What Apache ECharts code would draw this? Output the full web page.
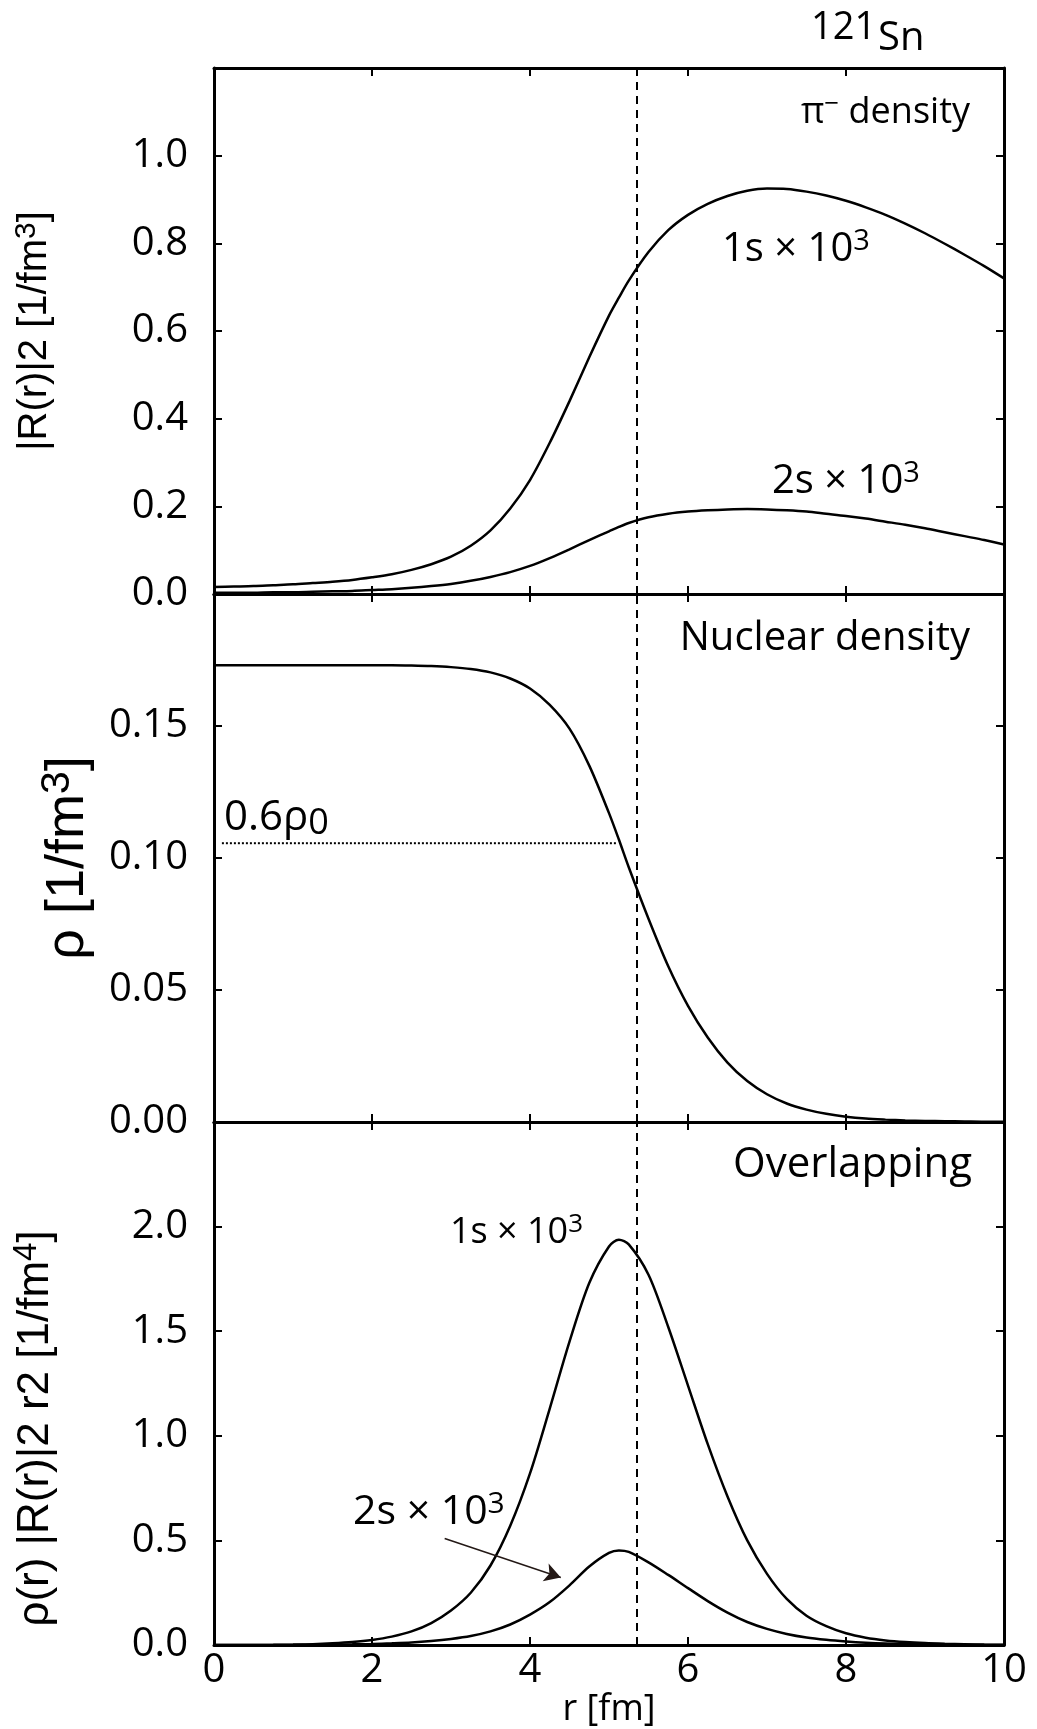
<!DOCTYPE html>
<html>
<head>
<meta charset="utf-8">
<script src="https://cdn.jsdelivr.net/npm/echarts@6/dist/echarts.min.js"></script>
<style>
html, body { margin: 0; padding: 0; background: #fff; }
#main { width: 1037px; height: 1729px; }
</style>
</head>
<body>
<div id="main"></div>
<script>
// radius samples [fm], every 0.25 fm plus the peak point 5.125
const r = [0, 0.25, 0.5, 0.75, 1, 1.25, 1.5, 1.75, 2, 2.25, 2.5, 2.75, 3, 3.25, 3.5, 3.75, 4, 4.25, 4.5, 4.75, 5, 5.125,
  5.25, 5.5, 5.75, 6, 6.25, 6.5, 6.75, 7, 7.25, 7.5, 7.75, 8, 8.25, 8.5, 8.75, 9, 9.25, 9.5, 9.75, 10]
// pi- density |R(r)|^2 x 10^3
const pi1s = [0.016, 0.017, 0.018, 0.02, 0.022, 0.025, 0.028, 0.032, 0.038, 0.045, 0.055, 0.068, 0.085, 0.11, 0.145, 0.195, 0.26,
  0.345, 0.44, 0.54, 0.635, 0.676, 0.715, 0.78, 0.83, 0.865, 0.89, 0.908, 0.92, 0.925, 0.924, 0.918, 0.909, 0.897, 0.882, 0.865, 0.845,
  0.823, 0.799, 0.774, 0.748, 0.72]
const pi2s = [0.003, 0.003, 0.003, 0.004, 0.004, 0.005, 0.006, 0.007, 0.009, 0.011, 0.014, 0.018, 0.023, 0.03, 0.039, 0.05, 0.064,
  0.082, 0.102, 0.123, 0.143, 0.153, 0.162, 0.175, 0.183, 0.188, 0.191, 0.193, 0.194, 0.193, 0.191, 0.188, 0.183, 0.178, 0.172, 0.165, 0.158,
  0.15, 0.141, 0.132, 0.123, 0.113]
// nuclear density rho [1/fm^3]
const nuclear = [0.173, 0.173, 0.173, 0.173, 0.173, 0.173, 0.173, 0.173, 0.173, 0.173, 0.1729, 0.1727, 0.1723, 0.1716, 0.1703, 0.168,
  0.1642, 0.158, 0.149, 0.135, 0.117, 0.107, 0.0965, 0.077, 0.059, 0.044, 0.032, 0.0225, 0.0155, 0.0105, 0.007, 0.0047, 0.0031, 0.002,
  0.0013, 0.0009, 0.0006, 0.0004, 0.0003, 0.0002, 0.0001, 0.0001]
// overlapping rho |R|^2 r^2 x 10^3
const overlap1s = [0, 0, 0.0002, 0.0008, 0.002, 0.004, 0.008, 0.014, 0.024, 0.04, 0.065, 0.105, 0.165, 0.25, 0.38, 0.57, 0.82,
  1.13, 1.45, 1.73, 1.905, 1.937, 1.915, 1.77, 1.52, 1.24, 0.96, 0.71, 0.5, 0.34, 0.22, 0.14, 0.09, 0.056, 0.035, 0.022, 0.014, 0.009,
  0.006, 0.004, 0.002, 0.001]
const overlap2s = [0, 0, 0, 0, 0.0005, 0.001, 0.0015, 0.003, 0.005, 0.008, 0.012, 0.019, 0.029, 0.043, 0.065, 0.098, 0.145,
  0.205, 0.285, 0.375, 0.44, 0.452, 0.445, 0.395, 0.335, 0.272, 0.21, 0.155, 0.11, 0.077, 0.053, 0.036, 0.025, 0.017, 0.011, 0.007, 0.005,
  0.003, 0.002, 0.001, 0.0005, 0]

const yMax = [1.2, 0.2, 2.5]
const yStep = [0.2, 0.05, 0.5]
const yDigits = [1, 2, 1]
const nucleusEdge = 5.35
const halfDensity = [[0.1, 0.1056], [5.1, 0.1056]]
const arrow2s = [[2.92, 0.509], [4.39, 0.323]]

const FONT = '"Open Sans", "Noto Sans", sans-serif'
const NAME_FONT = '"Liberation Sans", Arial, sans-serif'
const pairs = (ys) => r.map((x, k) => [x, ys[k]])

const tops = [68, 594, 1122]
const heights = [526, 528, 526]
const yNames = [
  '|R(r)|{n|2} [1/fm{s|3}]',
  'ρ [1/fm{s|3}]',
  'ρ(r) |R(r)|{n|2} r{n|2} [1/fm{s|4}]'
]
const yNameGap = [156, 114, 153]
const yNameSize = [40, 54, 44]

const axisLine = { show: true, onZero: false, lineStyle: { color: '#000', width: 3 } }
const axisTick = { show: true, inside: true, length: 8, lineStyle: { color: '#000', width: 2 } }

const grid = [], xAxis = [], yAxis = []
for (let i = 0; i < 3; i++) {
  grid.push({ left: 214, right: 33, top: tops[i], height: heights[i] })
  xAxis.push({
    gridIndex: i, type: 'value', min: 0, max: 10, interval: 2, position: 'bottom',
    axisLine, axisTick, splitLine: { show: false },
    axisLabel: { show: i === 2, color: '#000', fontSize: 40, fontFamily: FONT, margin: 6 },
    name: i === 2 ? 'r [fm]' : '', nameLocation: 'middle', nameGap: 47,
    nameTextStyle: { color: '#000', fontSize: 36, fontFamily: FONT }
  })
  xAxis.push({
    gridIndex: i, type: 'value', min: 0, max: 10, interval: 2, position: 'top',
    axisLine, axisTick, axisLabel: { show: false }, splitLine: { show: false }
  })
  yAxis.push({
    gridIndex: i, type: 'value', min: 0, max: yMax[i], interval: yStep[i], position: 'left',
    axisLine, axisTick, splitLine: { show: false },
    axisLabel: {
      color: '#000', fontSize: 40, fontFamily: FONT, margin: 26,
      formatter: (v) => (Math.abs(v - yMax[i]) < 1e-9 ? '' : v.toFixed(yDigits[i]))
    },
    name: yNames[i], nameLocation: 'middle', nameRotate: 90, nameGap: yNameGap[i],
    nameTextStyle: {
      color: '#000', fontSize: yNameSize[i], fontFamily: NAME_FONT,
      padding: i === 2 ? [0, 90, 0, 0] : 0,
      rich: {
        n: { fontSize: yNameSize[i], fontFamily: NAME_FONT, color: '#000' },
        s: { fontSize: Math.round(yNameSize[i] * 0.75), fontFamily: NAME_FONT, color: '#000', verticalAlign: 'top', padding: [0, 0, Math.round(yNameSize[i] * 0.4), 0] }
      }
    }
  })
  yAxis.push({
    gridIndex: i, type: 'value', min: 0, max: yMax[i], interval: yStep[i], position: 'right',
    axisLine, axisTick, axisLabel: { show: false }, splitLine: { show: false }
  })
}

const curve = (i, ys) => ({
  type: 'line', xAxisIndex: 2 * i, yAxisIndex: 2 * i, data: pairs(ys),
  smooth: 0.3, showSymbol: false, silent: true,
  lineStyle: { color: '#000', width: 2.5 }
})
const edge = {
  silent: true, symbol: 'none', label: { show: false },
  lineStyle: { color: '#000', width: 2, type: [8, 6] },
  data: [{ xAxis: nucleusEdge }]
}

const series = [
  Object.assign(curve(0, pi1s), { markLine: edge }),
  curve(0, pi2s),
  Object.assign(curve(1, nuclear), { markLine: edge }),
  {
    type: 'line', xAxisIndex: 2, yAxisIndex: 2, data: halfDensity, showSymbol: false, silent: true,
    lineStyle: { color: '#000', width: 2, type: [2, 2] }
  },
  Object.assign(curve(2, overlap1s), { markLine: edge }),
  curve(2, overlap2s),
  {
    type: 'line', xAxisIndex: 4, yAxisIndex: 4, data: [], silent: true,
    markLine: {
      silent: true, label: { show: false }, symbol: ['none', 'arrow'], symbolSize: [14, 16],
      lineStyle: { color: '#231815', width: 1.5, type: 'solid' },
      data: [[{ coord: arrow2s[0] }, { coord: arrow2s[1] }]]
    }
  }
]

const txt = (x, y, text, align, size, extra) => ({
  type: 'text', x, y, silent: true,
  style: Object.assign({
    text, fill: '#000', font: size + 'px ' + FONT, align, verticalAlign: 'middle',
    rich: {
      a: { fontSize: size, fontFamily: FONT, fill: '#000' },
      s: { fontSize: Math.round(size * 0.72), fontFamily: FONT, fill: '#000', verticalAlign: 'top', padding: [0, 0, 16, 0] }
    }
  }, extra || {})
})

const graphic = [
  txt(811, 28, '121', 'left', 38),
  txt(878, 39, 'Sn', 'left', 40),
  txt(970, 113, 'π{s|−} density', 'right', 36),
  txt(722, 250, '1s × 10{s|3}', 'left', 40),
  txt(772, 482, '2s × 10{s|3}', 'left', 40),
  txt(970, 639, 'Nuclear density', 'right', 40),
  txt(224, 818, '0.6ρ{b|0}', 'left', 42, { rich: { b: { fontSize: 36, fontFamily: FONT, fill: '#000', padding: [12, 0, 0, 0] } } }),
  txt(972, 1165, 'Overlapping', 'right', 42),
  txt(450, 1233, '1s × 10{s|3}', 'left', 36),
  txt(353, 1512, '2s × 10{s|3}', 'left', 41)
]

const chart = echarts.init(document.getElementById('main'), null, { renderer: 'canvas' })
chart.setOption({
  animation: false,
  backgroundColor: '#fff',
  grid, xAxis, yAxis, series, graphic
})
</script>
</body>
</html>
